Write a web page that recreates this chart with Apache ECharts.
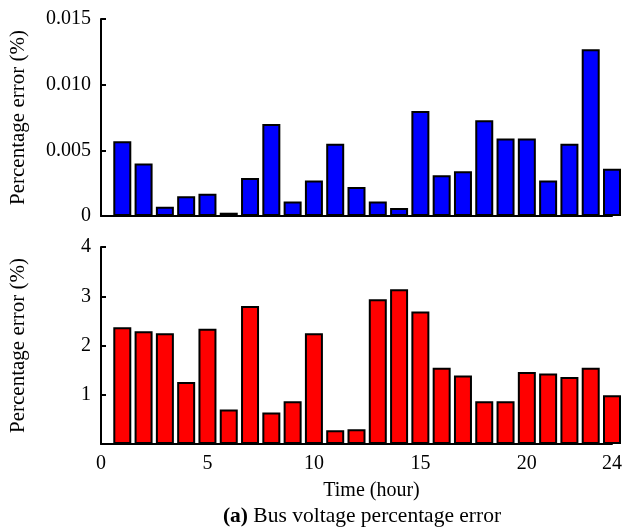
<!DOCTYPE html>
<html>
<head>
<meta charset="utf-8">
<script src="https://cdn.jsdelivr.net/npm/echarts@6/dist/echarts.min.js"></script>
<style>
  html, body { margin: 0; padding: 0; background: #fff; }
  #chart { width: 628px; height: 532px; }
</style>
</head>
<body>
<div id="chart"></div>
<script>
// hours 1..24
const hours = [1, 2, 3, 4, 5, 6, 7, 8, 9, 10, 11, 12, 13, 14, 15, 16, 17, 18, 19, 20, 21, 22, 23, 24]
// bus voltage percentage error (%), top panel
const voltageErr = [0.0057, 0.0040, 0.0007, 0.0015, 0.0017, 0.00025, 0.0029, 0.0070, 0.0011, 0.0027,
  0.0055, 0.0022, 0.0011, 0.0006, 0.0080, 0.0031, 0.0034, 0.0073, 0.0059, 0.0059,
  0.0027, 0.0055, 0.0127, 0.0036]
// bottom panel
const angleErr = [2.37, 2.29, 2.25, 1.26, 2.34, 0.70, 2.80, 0.64, 0.87, 2.25,
  0.28, 0.30, 2.94, 3.14, 2.69, 1.55, 1.39, 0.87, 0.87, 1.46,
  1.43, 1.36, 1.55, 0.99]

const FONT = 'Liberation Serif'
const chart = echarts.init(document.getElementById('chart'))

const axisLine = {show: true, onZero: false, lineStyle: {color: '#000', width: 2}}
const yCommon = {
  type: 'value',
  nameLocation: 'middle',
  name: 'Percentage error (%)',
  nameGap: 72,
  nameTextStyle: {fontFamily: FONT, fontSize: 21, color: '#000'},
  axisLine: axisLine,
  axisTick: {show: true, inside: true, length: 5, lineStyle: {color: '#000', width: 2}},
  splitLine: {show: false},
}

chart.setOption({
  animation: false,
  title: {
    text: '{b|(a)} Bus voltage percentage error',
    left: 357,
    top: 500,
    textAlign: 'center',
    textStyle: {
      fontFamily: FONT, fontSize: 21.5, fontWeight: 'normal', color: '#000',
      rich: {b: {fontFamily: FONT, fontSize: 21.5, fontWeight: 'bold', color: '#000'}}
    }
  },
  grid: [
    {left: 101, right: 16, top: 19, height: 197},
    {left: 101, right: 16, top: 247, height: 197}
  ],
  xAxis: [
    {
      gridIndex: 0, type: 'value', min: 0, max: 24,
      axisLine: axisLine, axisTick: {show: false}, axisLabel: {show: false}, splitLine: {show: false}
    },
    {
      gridIndex: 1, type: 'value', min: 0, max: 24, interval: 5,
      name: 'Time (hour)', nameLocation: 'middle', nameGap: 37,
      nameTextStyle: {fontFamily: FONT, fontSize: 20, color: '#000', padding: [0, 0, 0, 30]},
      axisLine: axisLine, axisTick: {show: false},
      axisLabel: {fontFamily: FONT, fontSize: 20, color: '#000', margin: 10},
      splitLine: {show: false}
    }
  ],
  yAxis: [
    Object.assign({}, yCommon, {
      gridIndex: 0, min: 0, max: 0.015, interval: 0.005,
      axisLabel: {
        fontFamily: FONT, fontSize: 20, color: '#000', margin: 10,
        formatter: v => v === 0 ? '0' : v.toFixed(3)
      }
    }),
    Object.assign({}, yCommon, {
      gridIndex: 1, min: 0, max: 4, interval: 1,
      axisLabel: {fontFamily: FONT, fontSize: 20, color: '#000', margin: 10, showMinLabel: false}
    })
  ],
  series: [
    {
      type: 'bar', xAxisIndex: 0, yAxisIndex: 0, barWidth: 18,
      itemStyle: {color: '#0000ff', borderColor: '#000', borderWidth: 2},
      data: hours.map((h, i) => [h, voltageErr[i]])
    },
    {
      type: 'bar', xAxisIndex: 1, yAxisIndex: 1, barWidth: 18,
      itemStyle: {color: '#ff0000', borderColor: '#000', borderWidth: 2},
      data: hours.map((h, i) => [h, angleErr[i]])
    }
  ]
})
</script>
</body>
</html>
